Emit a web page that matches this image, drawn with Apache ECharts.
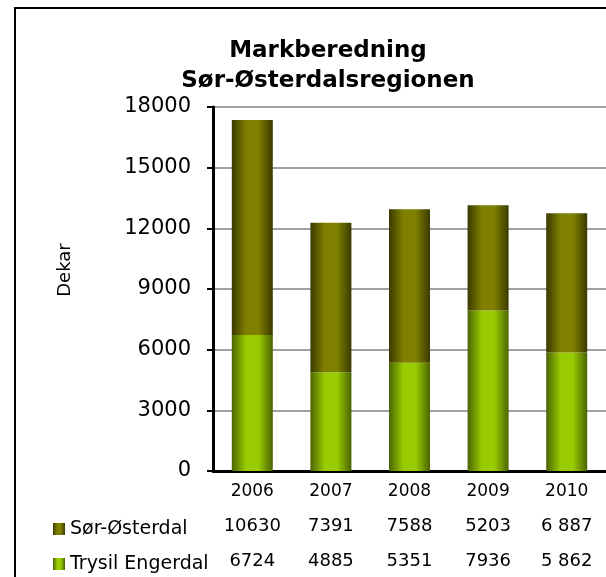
<!DOCTYPE html>
<html>
<head>
<meta charset="utf-8">
<script src="https://cdn.jsdelivr.net/npm/echarts@6/dist/echarts.min.js"></script>
<style>
  html, body { margin: 0; padding: 0; background: #fff; }
  #chart { width: 606px; height: 577px; }
</style>
</head>
<body>
<div id="chart"></div>
<script>
// data
const years = ['2006', '2007', '2008', '2009', '2010']
const sorOsterdal = [10630, 7391, 7588, 5203, 6887]
const trysilEngerdal = [6724, 4885, 5351, 7936, 5862]
const yTicks = { min: 0, max: 18000, interval: 3000 }

const font = 'DejaVu Sans'

// the 2010 column is printed with a space as thousands separator
function tableFmt(v, idx) {
  const s = String(v)
  if (idx === years.length - 1 && s.length > 3) {
    return s.slice(0, s.length - 3) + ' ' + s.slice(-3)
  }
  return s
}

function barGradient(dark, bright) {
  return new echarts.graphic.LinearGradient(0, 0, 1, 0, [
    { offset: 0, color: dark },
    { offset: 0.35, color: bright },
    { offset: 0.65, color: bright },
    { offset: 1, color: dark }
  ])
}

const chart = echarts.init(document.getElementById('chart'), null, { renderer: 'canvas' })

function tableAxis(values, offset) {
  return {
    type: 'category',
    gridIndex: 0,
    position: 'bottom',
    offset: offset,
    data: values.map(tableFmt),
    axisLine: { show: false },
    axisTick: { show: false },
    axisLabel: { color: '#000', fontFamily: font, fontSize: 18, margin: 12 }
  }
}

chart.setOption({
  animation: false,
  textStyle: { fontFamily: font },
  graphic: [{
    type: 'rect',
    shape: { x: 15, y: 8, width: 700, height: 700 },
    style: { fill: 'none', stroke: '#000', lineWidth: 2 }
  }],
  title: {
    text: 'Markberedning\nSør-Østerdalsregionen',
    left: 323,
    textAlign: 'center',
    top: 31,
    textStyle: { fontFamily: font, fontSize: 23, fontWeight: 'bold', color: '#000', lineHeight: 30 }
  },
  legend: {
    data: ['Sør-Østerdal', 'Trysil Engerdal'],
    orient: 'vertical',
    left: 53,
    top: 519,
    padding: 0,
    itemGap: 15,
    itemWidth: 12,
    itemHeight: 12,
    icon: 'rect',
    selectedMode: false,
    textStyle: { fontFamily: font, fontSize: 19, color: '#000', lineHeight: 20 }
  },
  grid: { left: 213, right: -5, top: 107, bottom: 106 },
  xAxis: [
    {
      type: 'category',
      data: years,
      axisLine: { lineStyle: { color: '#000', width: 3 } },
      axisTick: { show: false },
      axisLabel: { color: '#000', fontFamily: font, fontSize: 17, margin: 12 }
    },
    tableAxis(sorOsterdal, 34),
    tableAxis(trysilEngerdal, 69)
  ],
  yAxis: {
    type: 'value',
    min: yTicks.min,
    max: yTicks.max,
    interval: yTicks.interval,
    name: 'Dekar',
    nameLocation: 'middle',
    nameRotate: 90,
    nameGap: 139,
    nameTextStyle: { fontFamily: font, fontSize: 18, color: '#000', padding: [0, 0, 0, 38] },
    axisLine: { show: true, lineStyle: { color: '#000', width: 3 } },
    axisTick: { show: true, length: 6, lineStyle: { color: '#000', width: 2 } },
    axisLabel: { color: '#000', fontFamily: font, fontSize: 21, margin: 22, formatter: v => String(v) },
    splitLine: { lineStyle: { color: '#a0a0a0', width: 2 } }
  },
  series: [
    {
      name: 'Trysil Engerdal',
      type: 'bar',
      stack: 'total',
      barWidth: 41,
      data: trysilEngerdal,
      itemStyle: { color: barGradient('#4a6400', '#99cc00') }
    },
    {
      name: 'Sør-Østerdal',
      type: 'bar',
      stack: 'total',
      barWidth: 41,
      data: sorOsterdal,
      itemStyle: { color: barGradient('#3a3a00', '#808000') }
    }
  ]
})
</script>
</body>
</html>
